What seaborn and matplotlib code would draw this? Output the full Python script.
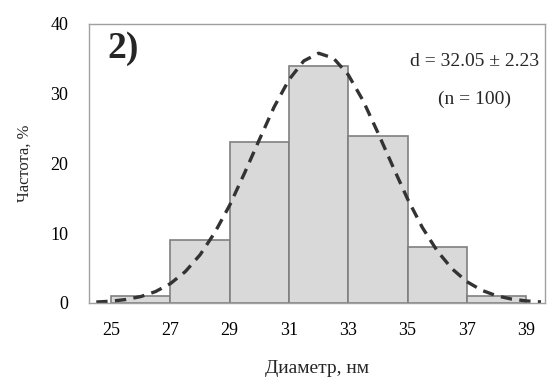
import matplotlib
matplotlib.use("Agg")
import matplotlib.pyplot as plt
import seaborn as sns
import pandas as pd

# Histogram data (bin centres, counts %)
bin_edges = [25, 27, 29, 31, 33, 35, 37, 39]
bin_centers = [26, 28, 30, 32, 34, 36, 38]
frequency = [1, 9, 23, 34, 24, 8, 1]

# Fitted curve, values
curve_x = [24.5, 25, 25.5, 26, 26.5, 27, 27.5, 28, 28.5, 29, 29.5, 30, 30.5, 31, 31.5,
           32, 32.5, 33, 33.5, 34, 34.5, 35, 35.5, 36, 36.5, 37, 37.5, 38, 38.5, 39, 39.5]
curve_y = [0.12, 0.24, 0.48, 0.90, 1.62, 2.76, 4.47, 6.88, 10.1, 14.0, 18.6, 23.4, 28.1, 32.0, 34.7,
           35.8, 35.1, 32.7, 29.0, 24.4, 19.6, 14.9, 10.8, 7.45, 4.89, 3.04, 1.81, 1.02, 0.55, 0.28, 0.13]

xticks = [25, 27, 29, 31, 33, 35, 37, 39]
yticks = [0, 10, 20, 30, 40]

sns.set_theme(style="white")
plt.rcParams['font.family'] = ['Liberation Serif', 'DejaVu Serif']

fig = plt.figure(figsize=(5.47, 3.80), dpi=100)
ax = fig.add_axes([0.163, 0.203, 0.833, 0.734])

hist_df = pd.DataFrame({"d": bin_centers, "f": frequency})
sns.histplot(data=hist_df, x="d", weights="f", bins=bin_edges, ax=ax,
             color="#d9d9d9", edgecolor="#7f7f7f", linewidth=1.2, alpha=1.0)

curve_df = pd.DataFrame({"x": curve_x, "y": curve_y})
sns.lineplot(data=curve_df, x="x", y="y", ax=ax, color="#333333",
             linewidth=2.4, linestyle=(0, (3.4, 2.2)))

ax.set_xlim(24.26, 39.63)
ax.set_ylim(0, 40)
ax.set_xticks(xticks)
ax.set_xticklabels([str(t) for t in xticks])
ax.set_yticks(yticks)
ax.tick_params(axis='both', length=0, labelsize=13, colors="black")
ax.tick_params(axis='y', pad=15)
ax.tick_params(axis='x', pad=14)

for s in ax.spines.values():
    s.set_color("#a0a0a0")
    s.set_linewidth(1.0)

ax.set_xlabel("Диаметр, нм", fontsize=14, labelpad=15)
ax.set_ylabel("Частота, %", fontsize=12, labelpad=13)

ax.text(0.04, 0.975, "2)", transform=ax.transAxes, fontsize=27, fontweight="bold",
        va="top", ha="left")
ax.text(0.845, 0.865, "d = 32.05 ± 2.23", transform=ax.transAxes, fontsize=14,
        ha="center", va="center")
ax.text(0.845, 0.73, "(n = 100)", transform=ax.transAxes, fontsize=14,
        ha="center", va="center")

fig.savefig("out.png", dpi=100, facecolor="white")
